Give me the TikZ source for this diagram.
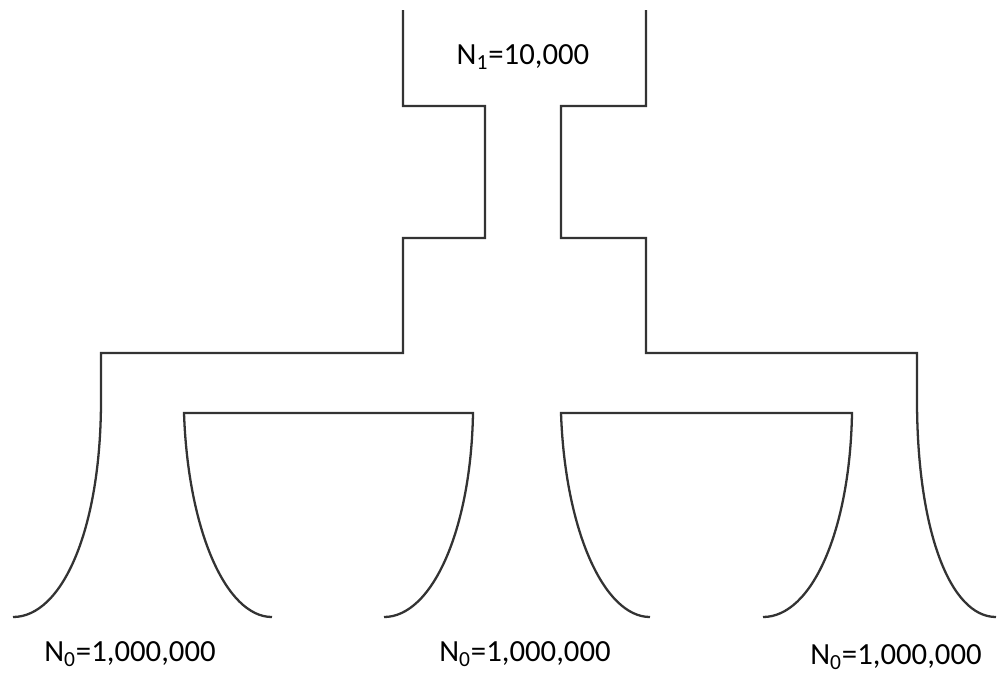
\documentclass[tikz,border=0pt]{standalone}
\usepackage{fontspec}
\setmainfont{Carlito}

\tikzset{
  wall/.style={line width=1.3pt, draw=black!80, line join=miter},
  popsize/.style={font=\fontsize{17.5}{21}\selectfont, inner sep=0pt}
}

\begin{document}
\begin{tikzpicture}[x=0.02cm, y=-0.02cm]

% Frame of the picture (pixel grid of the reference)
\useasboundingbox (0,0) rectangle (997,674);

% Define a variable for the curve bottoms
\def\bottom{617}
\def\shoulder{353}
\def\cuptop{413}

% Left outer wall: stem, shoulder and flared foot
\draw[wall] (403,10) -- (403,106) -- (485,106) -- (485,238) -- (403,238)
  -- (403,\shoulder) -- (101,\shoulder) -- (101,400)
  .. controls (101,530) and (62,\bottom) .. (13,\bottom);

% Right outer wall
\draw[wall] (646,10) -- (646,106) -- (561,106) -- (561,238) -- (646,238)
  -- (646,\shoulder) -- (917,\shoulder) -- (917,400)
  .. controls (917,530) and (950,\bottom) .. (996,\bottom);

% Left cup between the first and second population
\draw[wall] (272,\bottom) .. controls (226,\bottom) and (188,530) .. (184,\cuptop)
  -- (473,\cuptop) .. controls (471,530) and (432,\bottom) .. (384,\bottom);

% Right cup between the second and third population
\draw[wall] (650,\bottom) .. controls (604,\bottom) and (565,530) .. (561,\cuptop)
  -- (852,\cuptop) .. controls (850,530) and (812,\bottom) .. (763,\bottom);

% Population sizes
\node[popsize] (ancestral) at (523,57) {N\textsubscript{1}=10,000};
\foreach \name/\xpos/\ypos in {left/130/654, middle/525/654, right/896/657} {
    \node[popsize] (pop\name) at (\xpos,\ypos) {N\textsubscript{0}=1,000,000};
}

\end{tikzpicture}
\end{document}
